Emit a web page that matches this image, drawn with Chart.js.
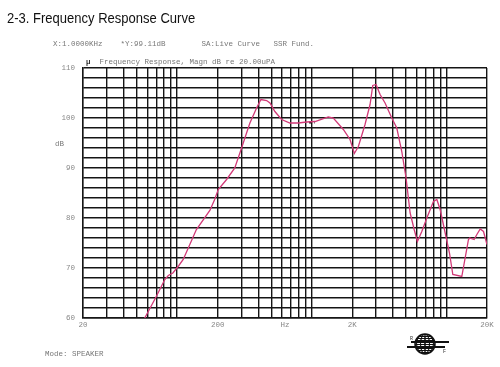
<!DOCTYPE html>
<html>
<head>
<meta charset="utf-8">
<script src="https://cdn.jsdelivr.net/npm/chart.js@4.4.1/dist/chart.umd.min.js"></script>
<style>
    body { margin: 0; background: #fff; }
    #wrap { position: relative; width: 500px; height: 367px; overflow: hidden; }
    #chart { position: absolute; left: 0; top: 0; }
    .lbl { position: absolute; white-space: pre; font-family: 'Liberation Mono', 'DejaVu Sans Mono', monospace; font-size: 7.5px; color: #777; line-height: 1; }
    #title { position: absolute; left: 7px; top: 9px; font-family: 'Liberation Sans', Arial, sans-serif; font-size: 15.5px; color: #111; transform: scaleX(0.84); transform-origin: left top; white-space: nowrap; }
</style>
</head>
<body>
<div id="wrap">
    <canvas id="chart" width="500" height="367"></canvas>
    <div id="title">2-3. Frequency Response Curve</div>
    <div class="lbl" style="left:53px; top:41px;">X:1.0000KHz    *Y:99.11dB        SA:Live Curve   SSR Fund.</div>
    <div class="lbl" style="left:86px; top:59px;"><b style="color:#333">µ</b>  Frequency Response, Magn dB re 20.00uPA</div>
    <div class="lbl" style="left:55px; top:141px;">dB</div>
    <div class="lbl" style="left:45px; top:351px;">Mode: SPEAKER</div>
</div>
<script>
// Frequency response (Hz, dB)
const freqs = [57.5, 70, 81, 86, 93, 103, 111, 139, 175, 190, 202, 233, 268, 301, 347, 389, 419, 462, 489, 532,
    597, 688, 794, 916, 1057, 1326, 1445, 1715, 1923, 2070, 2217, 2485, 2708, 2836, 3001, 3214, 3500, 3926, 4277, 4658,
    5013, 5372, 5757, 6086, 6559, 7148, 8004, 8485, 8977, 9784, 10530, 11150, 13000, 14570, 14870, 16050, 16820, 17810, 18840, 20000];
const levels = [60, 64.3, 67.7, 68.5, 69, 70.5, 71.7, 77.7, 81.5, 83.7, 85.7, 87.7, 90, 94, 99, 102, 103.7, 103.5, 103, 101.3,
    99.7, 99, 99, 99.2, 99.3, 100.2, 100, 97.7, 95.7, 92.9, 94.3, 98.7, 102.7, 106.5, 106.7, 104.7, 103, 100, 98, 93.3,
    88, 81, 77.7, 75.3, 77.3, 80, 83.3, 83.7, 81.7, 77, 73, 68.7, 68.3, 75.7, 76, 75.7, 76.7, 77.8, 77.3, 74.7];

// cursor marker at 1 kHz
const cursorFreqs = [955, 1050];
const cursorLevels = [99.11, 99.11];

// log grid lines and labels
const xGrid = [20, 30, 40, 50, 60, 70, 80, 90, 100, 200, 300, 400, 500, 600, 700, 800, 900, 1000,
    2000, 3000, 4000, 5000, 6000, 7000, 8000, 9000, 10000, 20000];
const hzPos = 632.46;
const xLabels = { 20: '20', 200: '200', 2000: '2K', 20000: '20K' };
xLabels[hzPos] = 'Hz';
const yLabels = [60, 70, 80, 90, 100, 110];

const tickFont = { family: "'Liberation Mono', monospace", size: 7.5 };

// small globe logo bottom right
const logoPlugin = {
    id: 'logo',
    afterDraw(chart) {
        const c = chart.ctx;
        const cx = 425, cy = 344, r = 10;
        c.save();
        c.beginPath();
        c.arc(cx, cy, r, 0, Math.PI * 2);
        c.fillStyle = '#fff';
        c.fill();
        c.clip();
        c.strokeStyle = '#111';
        c.lineWidth = 1;
        for (let y = cy - r; y <= cy + r; y += 2) {
            c.beginPath();
            c.moveTo(cx - r, y + 0.5);
            c.lineTo(cx + r, y + 0.5);
            c.stroke();
        }
        c.lineWidth = 0.8;
        for (let k = -2; k <= 2; k++) {
            c.beginPath();
            c.ellipse(cx, cy, Math.abs(k) * 4 + 0.5, r, 0, 0, Math.PI * 2);
            c.stroke();
        }
        c.restore();
        c.save();
        c.strokeStyle = '#111';
        c.lineWidth = 1.5;
        c.beginPath();
        c.arc(cx, cy, r, 0, Math.PI * 2);
        c.stroke();
        c.lineWidth = 2;
        c.beginPath();
        c.moveTo(411, 342); c.lineTo(449, 342);
        c.moveTo(407, 347); c.lineTo(445, 347);
        c.stroke();
        c.fillStyle = '#333';
        c.font = "5px 'Liberation Mono', monospace";
        c.fillText('R', 410, 340);
        c.fillText('F', 443, 353);
        c.restore();
    }
};

new Chart(document.getElementById('chart'), {
    type: 'line',
    data: {
        datasets: [{
            data: freqs.map((f, i) => ({ x: f, y: levels[i] })),
            borderColor: '#d23a78',
            borderWidth: 1.3,
            pointRadius: 0,
            tension: 0,
            fill: false
        }, {
            data: cursorFreqs.map((f, i) => ({ x: f, y: cursorLevels[i] })),
            borderColor: '#111',
            borderWidth: 2,
            borderDash: [3, 2],
            pointRadius: 0,
            fill: false
        }]
    },
    options: {
        responsive: false,
        animation: false,
        layout: { padding: { left: 0, right: 13, top: 68, bottom: 0 } },
        plugins: {
            legend: { display: false },
            tooltip: { enabled: false }
        },
        scales: {
            x: {
                type: 'logarithmic',
                min: 20,
                max: 20000,
                afterBuildTicks: function(scale) {
                    scale.ticks = xGrid.concat([hzPos]).sort((a, b) => a - b).map(v => ({ value: v }));
                },
                afterFit: function(scale) { scale.height = 49; },
                ticks: {
                    autoSkip: false,
                    maxRotation: 0,
                    padding: 3,
                    color: '#888',
                    font: tickFont,
                    callback: function(value) {
                        return xLabels[value] || '';
                    }
                },
                grid: {
                    drawTicks: false,
                    color: ctx => (ctx.tick && ctx.tick.value === hzPos) ? 'rgba(0,0,0,0)' : '#151515',
                    lineWidth: 1.4
                },
                border: { color: '#151515', width: 1.4 }
            },
            y: {
                min: 60,
                max: 110,
                afterFit: function(scale) { scale.width = 83; },
                ticks: {
                    stepSize: 2,
                    maxTicksLimit: 30,
                    autoSkip: false,
                    padding: 8,
                    color: '#888',
                    font: tickFont,
                    callback: function(value) {
                        return yLabels.includes(value) ? String(value) : '';
                    }
                },
                grid: {
                    drawTicks: false,
                    color: '#151515',
                    lineWidth: 1.4
                },
                border: { color: '#151515', width: 1.4 }
            }
        }
    },
    plugins: [logoPlugin]
});
</script>
</body>
</html>
